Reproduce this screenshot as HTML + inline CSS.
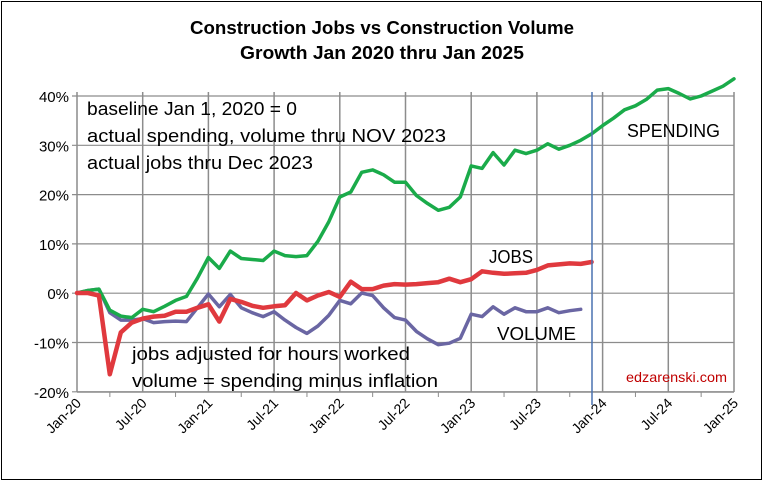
<!DOCTYPE html>
<html><head><meta charset="utf-8"><style>
html,body{margin:0;padding:0;background:#fff;}
body{width:764px;height:484px;overflow:hidden;}
text{font-family:"Liberation Sans",sans-serif;}
</style></head><body>
<svg id="s" width="764" height="484" xmlns="http://www.w3.org/2000/svg">
<rect x="1.5" y="1.5" width="760" height="478" fill="#fff" stroke="#000" stroke-width="1"/>
<text x="190" y="34" textLength="384" lengthAdjust="spacingAndGlyphs" font-size="18" font-weight="bold">Construction Jobs vs Construction Volume</text>
<text x="240" y="59" textLength="284" lengthAdjust="spacingAndGlyphs" font-size="18" font-weight="bold">Growth Jan 2020 thru Jan 2025</text>
<g id="grid"></g>
<g id="series"></g>
<line x1="592" y1="92" x2="592" y2="405" stroke="#4a72b0" stroke-width="1.5"/>
<g font-size="18" fill="#000">
<text x="87" y="115" textLength="210" lengthAdjust="spacingAndGlyphs">baseline Jan 1, 2020 = 0</text>
<text x="87" y="142" textLength="359" lengthAdjust="spacingAndGlyphs">actual  spending, volume thru NOV 2023</text>
<text x="87" y="169" textLength="226" lengthAdjust="spacingAndGlyphs">actual jobs thru Dec 2023</text>
<text x="132" y="360" textLength="278" lengthAdjust="spacingAndGlyphs">jobs adjusted for hours worked</text>
<text x="132" y="387" textLength="306" lengthAdjust="spacingAndGlyphs">volume = spending minus inflation</text>
<text x="489" y="263" textLength="44" lengthAdjust="spacingAndGlyphs">JOBS</text>
<text x="497" y="340" textLength="79" lengthAdjust="spacingAndGlyphs">VOLUME</text>
<text x="627" y="137" textLength="93" lengthAdjust="spacingAndGlyphs">SPENDING</text>
</g>
<text x="626" y="382" font-size="14" fill="#c00000" textLength="101" lengthAdjust="spacingAndGlyphs">edzarenski.com</text>
</svg>
<script>
var X=function(i){return 77+i*10.95;},Y=function(v){return 293-v*4.925;};
var g=document.getElementById('grid'),h='';
for(var k=0;k<=10;k++){var x=77+k*65.7;h+='<line x1="'+x+'" y1="92" x2="'+x+'" y2="392" stroke="#8c8c8c" stroke-width="1.5"/>';}
var labs=['40%','30%','20%','10%','0%','-10%','-20%'];
for(var k=0;k<7;k++){var y=96+k*49.3;h+='<line x1="72" y1="'+y+'" x2="734" y2="'+y+'" stroke="#8c8c8c" stroke-width="1.2"/>';
h+='<text x="69" y="'+(y+6)+'" text-anchor="end" font-size="15">'+labs[k]+'</text>';}
h+='<line x1="77" y1="392" x2="734" y2="392" stroke="#8c8c8c" stroke-width="1.5"/>';
var xl=['Jan-20','Jul-20','Jan-21','Jul-21','Jan-22','Jul-22','Jan-23','Jul-23','Jan-24','Jul-24','Jan-25'];
for(var k=0;k<=10;k++){var x=77+k*65.7;h+='<text transform="translate('+(x+5)+',404) rotate(-45)" text-anchor="end" font-size="14">'+xl[k]+'</text>';
h+='<line x1="'+(x+32.85)+'" y1="392" x2="'+(x+32.85)+'" y2="397" stroke="#8c8c8c"/>';}
g.innerHTML=h;
var green=[0,0.5,0.8,-3.5,-4.7,-5,-3.3,-3.8,-2.7,-1.5,-0.7,3,7.2,5,8.5,7,6.8,6.6,8.5,7.6,7.4,7.6,10.5,14.5,19.5,20.5,24.5,25,24,22.5,22.5,19.8,18.2,16.8,17.4,19.5,25.8,25.3,28.5,26,29,28.3,29,30.3,29.2,30,31,32.3,34,35.5,37.2,38,39.3,41.2,41.5,40.5,39.4,40,41,42,43.5];
var red=[0,0,-0.5,-16.5,-8,-6,-5.2,-4.8,-4.6,-3.8,-3.8,-3,-2.3,-5.8,-1.2,-1.8,-2.6,-3,-2.7,-2.5,0,-1.5,-0.5,0.2,-0.8,2.3,0.8,0.8,1.5,1.8,1.7,1.8,2,2.2,2.9,2.2,2.8,4.4,4.1,3.9,4,4.1,4.7,5.6,5.8,6,5.9,6.3];
var vol=[0,0.5,0.8,-4,-5.5,-5.5,-5.2,-6,-5.8,-5.7,-5.8,-3,-0.2,-2.8,-0.3,-3,-4,-4.8,-3.8,-5.5,-7,-8.2,-6.7,-4.5,-1.5,-2.2,0,-0.5,-3,-5,-5.5,-7.8,-9.3,-10.5,-10.2,-9.2,-4.3,-4.8,-2.8,-4.3,-3,-3.8,-3.8,-3,-4,-3.6,-3.3];
function pl(d,c,w){return '<polyline fill="none" stroke="'+c+'" stroke-width="'+w+'" stroke-linejoin="round" stroke-linecap="round" points="'+d.map(function(v,i){return X(i).toFixed(1)+','+Y(v).toFixed(1);}).join(' ')+'"/>';}
document.getElementById('series').innerHTML=pl(vol,'#6a66a3',3.5)+pl(green,'#1aab4a',3.5)+pl(red,'#e0393e',4.5);
</script>
</body></html>
